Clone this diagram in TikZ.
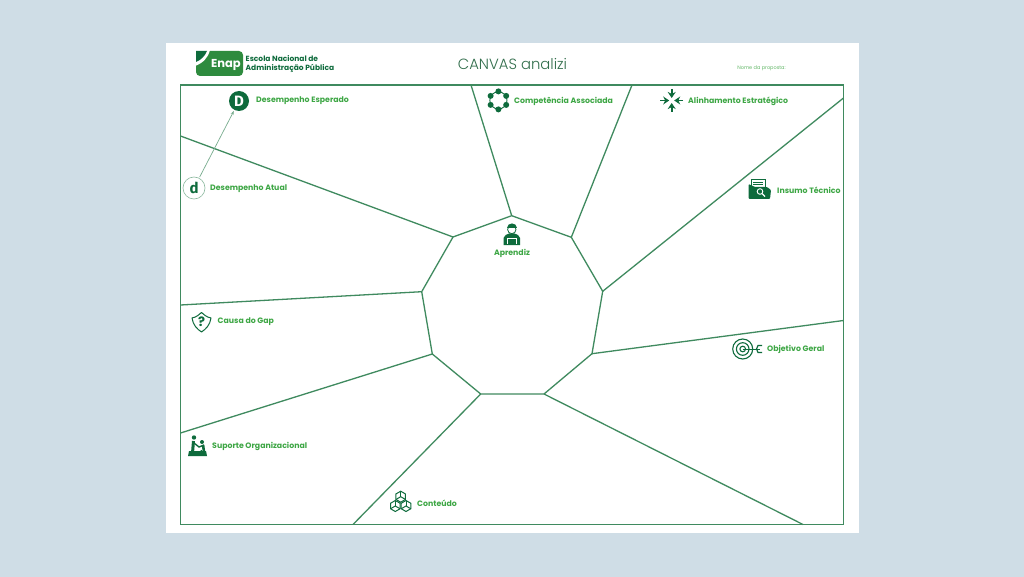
\documentclass[tikz,border=0pt]{standalone}
\usepackage{fontspec}
\setmainfont{Poppins}
\newfontfamily\lightfont{Poppins Light}
\newfontfamily\markfont{Fira Sans}
\usetikzlibrary{arrows.meta}
\definecolor{pagebg}{HTML}{CFDDE6}
\definecolor{linegreen}{HTML}{3F8A5F}
\definecolor{labelgreen}{HTML}{3DA644}
\definecolor{icongreen}{HTML}{0E6B3C}
\definecolor{logogreen}{HTML}{2E8B3E}
\tikzset{
  spoke/.style={draw=linegreen, line width=1.3pt},
  fieldlabel/.style={anchor=west, inner sep=0pt, text=labelgreen, font=\bfseries\fontsize{7.8}{10}\selectfont},
  iconline/.style={draw=icongreen, line width=1pt},
  iconfill/.style={fill=icongreen, draw=none},
  hexcube/.pic={
    \draw[iconline] (90:5.5) -- (150:5.5) -- (210:5.5) -- (270:5.5) -- (330:5.5) -- (30:5.5) -- cycle;
    \draw[iconline] (150:5.5) -- (0,0) -- (30:5.5);
    \draw[iconline] (0,0) -- (270:5.5);
  }
}
\begin{document}
\begin{tikzpicture}[x=1pt, y=-1pt]
            \useasboundingbox (0,0) rectangle (1024,577);
            % page and sheet
            \fill[pagebg] (0,0) rectangle (1024,577);
            \fill[white] (166,43) rectangle (859,533);
            % logo
            \fill[logogreen, rounded corners=4pt] (196,51) rectangle (243,76);
            \fill[white] (195,50) -- (210,50) .. controls (208,58) and (203,63) .. (195,66) -- cycle;
            \fill[icongreen] (196,51) -- (207,51) .. controls (205,56) and (201,60) .. (196,62) -- cycle;
            \node[inner sep=0pt, text=white, font=\bfseries\fontsize{11.5}{12}\selectfont] (enap) at (226,65) {Enap};
            \node[anchor=west, inner sep=0pt, text=icongreen, align=left, font=\bfseries\fontsize{7.5}{8.4}\selectfont] (school) at (245.5,64) {Escola Nacional de\\Administração Pública};
            % title
            \node[inner sep=0pt, text=linegreen!80!black, font=\lightfont\fontsize{14.8}{18}\selectfont] (title) at (512.5,64) {CANVAS analizi};
            \node[inner sep=0pt, text=labelgreen!80, font=\fontsize{5}{6}\selectfont] (proposal) at (761.5,68) {Nome da proposta:};
            % outer frame
            \coordinate (nw) at (180.5,85);
            \coordinate (se) at (843.5,524.5);
            \draw[spoke] (nw) rectangle (se);
            % inner polygon
            \coordinate (p1) at (511.7,215.7);
            \coordinate (p2) at (571.3,237.3);
            \coordinate (p3) at (602.7,291.3);
            \coordinate (p4) at (592,353.7);
            \coordinate (p5) at (544,394);
            \coordinate (p6) at (480.7,394);
            \coordinate (p7) at (432.3,354);
            \coordinate (p8) at (421.7,291.7);
            \coordinate (p9) at (453,237);
            \draw[spoke] (p1) -- (p2) -- (p3) -- (p4) -- (p5) -- (p6) -- (p7) -- (p8) -- (p9) -- cycle;
            % free ends on the frame
            \coordinate (q1) at (471,85);
            \coordinate (q2) at (632,85);
            \coordinate (q3) at (843.5,98);
            \coordinate (q4) at (843.5,320.5);
            \coordinate (q5) at (803,524.5);
            \coordinate (q6) at (353,524.5);
            \coordinate (q7) at (180.5,433);
            \coordinate (q8) at (180.5,305);
            \coordinate (q9) at (180.5,136);
            % spokes
            \foreach \i in {1,...,9}
              \draw[spoke] (p\i) -- (q\i);
            % performance markers
            \node[circle, fill=icongreen, minimum size=20pt, inner sep=0pt, text=white, font=\markfont\bfseries\fontsize{15}{15}\selectfont] (expected) at (239,101) {D};
            \node[circle, draw=linegreen!60, fill=white, line width=.6pt, minimum size=22pt, inner sep=0pt, text=icongreen, font=\markfont\bfseries\fontsize{15}{15}\selectfont] (current) at (194,188) {d};
            \draw[linegreen!70, line width=.7pt, -{Stealth[length=4pt]}, shorten >=1pt, shorten <=1pt] (current) -- (expected);
            % labels
            \node[fieldlabel] (lblexpected) at (256,101) {Desempenho Esperado};
            \node[fieldlabel] (lblcurrent) at (210,188.5) {Desempenho Atual};
            \node[fieldlabel] (lblskill) at (514,101) {Competência Associada};
            \node[fieldlabel] (lblalign) at (688,101) {Alinhamento Estratégico};
            \node[fieldlabel] (lblinput) at (777,190) {Insumo Técnico};
            \node[fieldlabel, anchor=center] (lbllearner) at (512,253) {Aprendiz};
            \node[fieldlabel] (lblcause) at (217.5,322) {Causa do Gap};
            \node[fieldlabel] (lblgoal) at (767,349.5) {Objetivo Geral};
            \node[fieldlabel] (lblsupport) at (212,446) {Suporte Organizacional};
            \node[fieldlabel] (lblcontent) at (417,503) {Conteúdo};
            % skill icon
            \draw[iconline, line width=.9pt] (498.4,100.4) circle (8.6);
            \foreach \a in {30,90,...,330}
              \fill[icongreen] (498.4,100.4) ++(\a:9) circle (3);
            % alignment icon
            \begin{scope}[shift={(671.7,100.5)}, line width=1.8pt, icongreen, -{Stealth[length=6pt, width=8pt]}]
              \draw (-11.5,0) -- (-2.5,0);
              \draw (11.5,0) -- (2.5,0);
              \draw (0,-11.5) -- (0,-2.5);
              \draw (0,11.5) -- (0,2.5);
            \end{scope}
            % input icon
            \draw[iconline, fill=white, line width=.8pt] (751,195) -- (751,179) -- (765,179) -- (765,195);
            \draw[iconline, line width=.7pt] (753,182) -- (763,182);
            \draw[iconline, line width=.7pt] (753,184.5) -- (763,184.5);
            \fill[icongreen, rounded corners=1pt] (748.5,199) -- (748.5,184) -- (755,187) -- (767,187) -- (771,190) -- (770,199) -- cycle;
            \draw[white, line width=.9pt] (760,191.5) circle (2.8);
            \draw[white, line width=1.2pt] (762,193.5) -- (765,196.5);
            % learner icon
            \fill[icongreen] (503.5,245) -- (503.5,238) .. controls (504,235) and (507,234.5) .. (509,233.5) -- (514.5,233.5) .. controls (517,234.5) and (519.5,235) .. (520,238) -- (520,245) -- cycle;
            \draw[icongreen, fill=white, line width=.8pt] (511.8,229.5) circle (4.2);
            \fill[icongreen] (507,228) .. controls (507,222.5) and (516.5,222.5) .. (516.5,228) -- cycle;
            \fill[white] (506.5,238) rectangle (517,244);
            \fill[icongreen] (507.5,239) rectangle (516,243.5);
            % cause icon
            \draw[iconline, line join=round] (192,318) .. controls (197,317) and (199,314.5) .. (201.5,312.5) .. controls (204,314.5) and (206,317) .. (211,318) .. controls (210,325) and (206,329) .. (201.5,332) .. controls (197,329) and (193,325) .. (192,318) -- cycle;
            \node[inner sep=0pt, text=icongreen, font=\bfseries\fontsize{13}{13}\selectfont] (causemark) at (201.5,321.5) {?};
            % support icon
            \fill[icongreen] (188,456) -- (189,451) -- (206,451) -- (207,456) -- cycle;
            \fill[icongreen] (194,437.5) circle (2.2);
            \fill[icongreen] (202,442) circle (2);
            \draw[icongreen, line width=3pt] (193.5,441) -- (192.5,453);
            \draw[icongreen, line width=1.4pt] (194,443) -- (199,447) -- (204,445);
            \draw[icongreen, line width=2.6pt] (203,445) -- (204.5,455);
            \draw[icongreen, line width=1.4pt] (201.5,450) -- (200.5,455);
            % goal icon
            \draw[iconline, line width=1.1pt] (742.7,349) circle (10);
            \draw[iconline, line width=1.1pt] (742.7,349) circle (6.3);
            \draw[iconline, line width=1.1pt] (742.7,349) circle (2.8);
            \draw[iconline] (742.7,349) -- (760,349);
            \draw[iconline, line width=1.2pt] (762,345.5) -- (758,345.5) -- (756.5,349) -- (758,352.5) -- (762,352.5);
            % content icon
            \pic at (400.7,496.7) {hexcube};
            \pic at (395.3,506) {hexcube};
            \pic at (406,506) {hexcube};
        \end{tikzpicture}
\end{document}
